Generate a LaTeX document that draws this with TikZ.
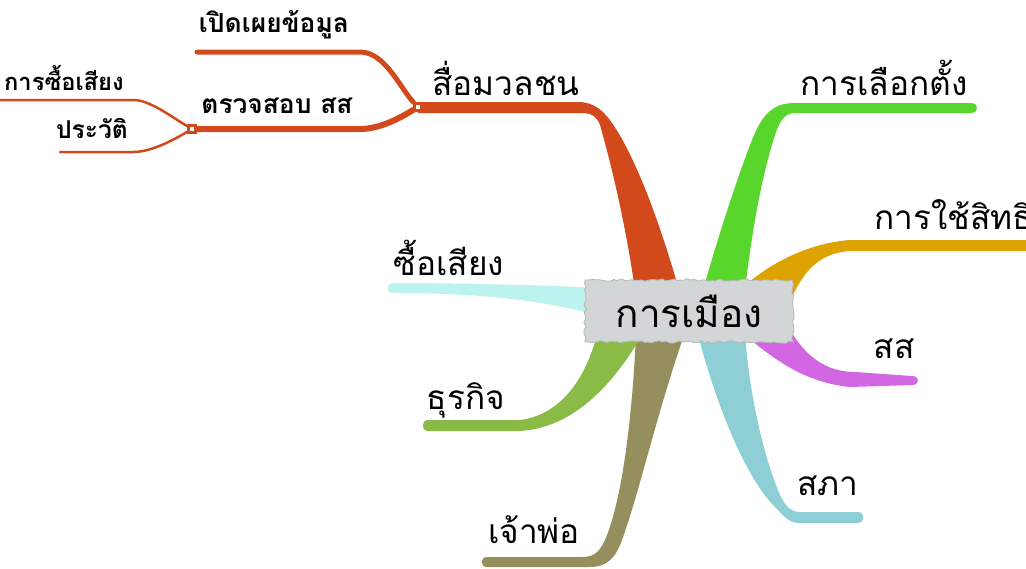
\documentclass[tikz,border=0pt]{standalone}
\usepackage{fontspec}
\setmainfont[Script=Thai]{Loma}
\usetikzlibrary{decorations.pathmorphing}
\definecolor{mediaC}{HTML}{D2491B}
\definecolor{voteC}{HTML}{58D62B}
\definecolor{rightC}{HTML}{DDA300}
\definecolor{mpC}{HTML}{D367E3}
\definecolor{houseC}{HTML}{8ECFD6}
\definecolor{bossC}{HTML}{948F5C}
\definecolor{bizC}{HTML}{8BBB47}
\definecolor{buyC}{HTML}{BDF3EE}
\definecolor{hubC}{HTML}{D3D6D6}

\begin{document}
\pgfmathsetseed{7}
\begin{tikzpicture}[
    x = 0.02cm,
    y = -0.02cm,
    label/.style = {inner sep = 0pt, font = \fontsize{19}{22}\selectfont},
    small/.style = {inner sep = 0pt, font = \fontsize{15}{18}\selectfont\bfseries},
    hub/.style = {fill = hubC, draw = gray!55, line width = 0.5pt, minimum width = 4.16cm,
                  minimum height = 1.24cm, font = \fontsize{22}{26}\selectfont,
                  decorate, decoration = {random steps, segment length = 2pt, amplitude = 0.7pt}},
    junction/.style = {draw = mediaC, fill = white, line width = 1.5pt, minimum size = 4pt, inner sep = 0pt},
    twig/.style = {draw = mediaC, line cap = round}
  ]
    \useasboundingbox (0, 0) rectangle (1026, 568);

    \fill[mediaC] (635, 290) .. controls (625, 220) and (610, 160) .. (600, 125)
      .. controls (597, 117) and (592, 113) .. (582, 113) -- (418, 113) -- (418, 102) -- (578, 102)
      .. controls (595, 102) and (605, 112) .. (614, 126) .. controls (640, 165) and (665, 240) .. (679, 290) -- cycle;
    \fill[voteC] (703, 290) .. controls (720, 230) and (740, 170) .. (752, 140)
      .. controls (762, 115) and (772, 103) .. (795, 103) -- (800, 103) -- (800, 113) -- (795, 113)
      .. controls (785, 113) and (780, 120) .. (775, 135) .. controls (762, 175) and (752, 230) .. (745, 290) -- cycle;
    \draw[voteC, line width = 10*0.02cm, line cap = round] (794, 108) -- (972, 108);
    \fill[rightC] (740, 290) .. controls (770, 262) and (810, 243) .. (850, 240) -- (1030, 240) -- (1030, 251)
      -- (850, 251) .. controls (820, 253) and (805, 270) .. (793, 295) -- cycle;
    \fill[mpC] (790, 330) .. controls (805, 355) and (825, 372) .. (855, 372) -- (912, 376)
      .. controls (920, 376) and (920, 385) .. (912, 385) -- (850, 387)
      .. controls (810, 383) and (780, 365) .. (745, 335) -- cycle;
    \fill[houseC] (698, 335) .. controls (715, 400) and (745, 480) .. (778, 510)
      .. controls (785, 518) and (790, 523) .. (800, 523) -- (858, 523)
      .. controls (865, 523) and (865, 512) .. (858, 512) -- (800, 512)
      .. controls (790, 512) and (785, 505) .. (780, 495) .. controls (765, 460) and (750, 400) .. (745, 335) -- cycle;
    \fill[bossC] (636, 335) .. controls (632, 420) and (622, 500) .. (605, 540)
      .. controls (598, 555) and (592, 557) .. (580, 557) -- (487, 557)
      .. controls (480, 557) and (480, 567) .. (487, 567) -- (590, 567)
      .. controls (605, 567) and (615, 560) .. (622, 540) .. controls (640, 490) and (655, 420) .. (684, 335) -- cycle;
    \fill[bizC] (597, 335) .. controls (585, 380) and (560, 415) .. (520, 420) -- (428, 420)
      .. controls (421, 420) and (421, 431) .. (428, 431) -- (520, 431)
      .. controls (570, 428) and (610, 390) .. (642, 335) -- cycle;
    \fill[buyC] (595, 288) .. controls (550, 285) and (450, 283) .. (393, 283)
      .. controls (386, 283) and (386, 293) .. (393, 293) .. controls (450, 293) and (530, 296) .. (595, 315) -- cycle;

    \node[hub] (politics) at (689, 311) {การเมือง};

    \node[junction] (jmedia) at (418, 107) {};
    \node[junction] (jcheck) at (192, 129) {};
    \coordinate (tdisclose) at (197, 52);
    \coordinate (tbuyvote) at (-5, 100);
    \coordinate (trecord) at (60, 152);
    \draw[twig, line width = 5*0.02cm] (jmedia) .. controls (400, 88) and (385, 52) .. (360, 52) -- (tdisclose);
    \draw[twig, line width = 6*0.02cm] (jmedia) .. controls (400, 118) and (380, 129) .. (360, 129) -- (jcheck);
    \draw[twig, line width = 2.5*0.02cm] (jcheck) .. controls (170, 116) and (150, 100) .. (133, 100) -- (tbuyvote);
    \draw[twig, line width = 2.5*0.02cm] (jcheck) .. controls (170, 142) and (150, 152) .. (133, 152) -- (trecord);
    \node[junction] at (jmedia) {};
    \node[junction] at (jcheck) {};

    \node[label] (media) at (506, 78) {สื่อมวลชน};
    \node[label] (vote) at (884, 78) {การเลือกตั้ง};
    \node[label, anchor = west] (right) at (874, 215) {การใช้สิทธิ};
    \node[label] (mp) at (894, 349) {สส};
    \node[label] (house) at (828, 486) {สภา};
    \node[label] (boss) at (534, 530) {เจ้าพ่อ};
    \node[label] (biz) at (466, 400) {ธุรกิจ};
    \node[label] (buy) at (449, 258) {ซื้อเสียง};
    \node[small] (disclose) at (274, 25) {เปิดเผยข้อมูล};
    \node[small] (check) at (277, 106) {ตรวจสอบ สส};
    \node[small, anchor = east, font = \fontsize{13.5}{16}\selectfont\bfseries] (buyvote) at (124, 78) {การซื้อเสียง};
    \node[small, font = \fontsize{14}{17}\selectfont\bfseries] (record) at (92, 128) {ประวัติ};
  \end{tikzpicture}
\end{document}
